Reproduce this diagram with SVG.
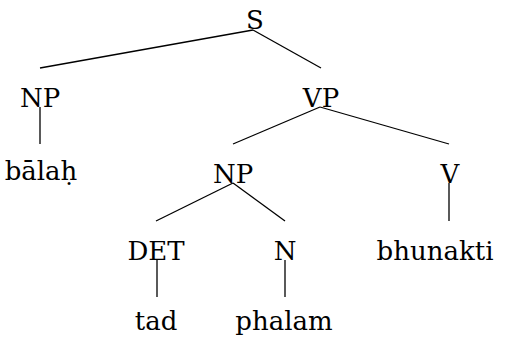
<svg xmlns="http://www.w3.org/2000/svg" width="506" height="339" viewBox="0 0 506 339">
<style>
.t text{font-size:26px;fill:#000;text-anchor:middle}
.e line{stroke:#000;stroke-width:1.3}
</style>
<rect width="506" height="339" fill="#fff"/>
<g class="e" id="connectors">
<line x1="253" y1="30" x2="40" y2="68"/>
<line x1="253" y1="30" x2="321" y2="68"/>
<line x1="40" y1="107" x2="40" y2="144"/>
<line x1="320" y1="107" x2="233" y2="144"/>
<line x1="320" y1="107" x2="449" y2="144"/>
<line x1="233" y1="183" x2="156" y2="221"/>
<line x1="233" y1="183" x2="285" y2="221"/>
<line x1="449" y1="183" x2="449" y2="221"/>
<line x1="157" y1="260" x2="157" y2="297"/>
<line x1="285" y1="260" x2="285" y2="297"/>
</g>
<g class="t" font-family="'DejaVu Serif', serif">
<g id="S"><text x="255" y="29">S</text></g>
<g id="NP1"><text x="40" y="107">NP</text></g>
<g id="VP"><text x="321" y="107">VP</text></g>
<g id="balah"><text x="41" y="180">bālaḥ</text></g>
<g id="NP2"><text x="233" y="183">NP</text></g>
<g id="V"><text x="450" y="183">V</text></g>
<g id="DET"><text x="156" y="260">DET</text></g>
<g id="N"><text x="285" y="260">N</text></g>
<g id="bhunakti"><text x="435" y="260">bhunakti</text></g>
<g id="tad"><text x="156" y="330">tad</text></g>
<g id="phalam"><text x="284" y="330">phalam</text></g>
</g>
</svg>
